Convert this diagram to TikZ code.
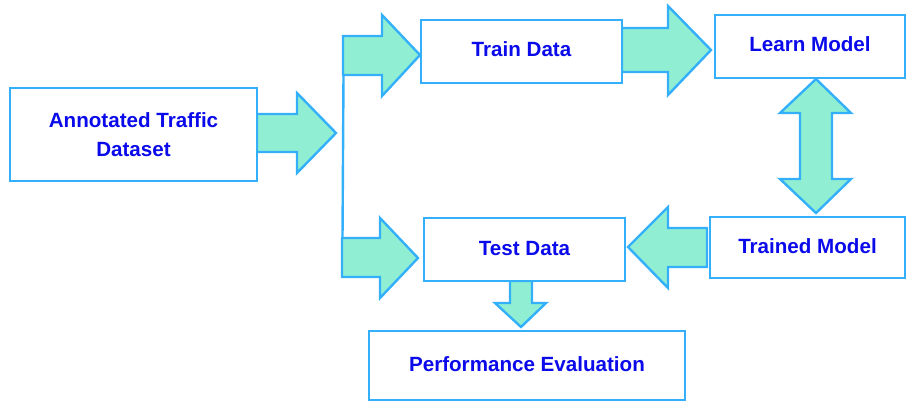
\documentclass[tikz,border=0pt]{standalone}
\usepackage{fontspec}
\setmainfont{Liberation Sans}
\definecolor{edgeblue}{RGB}{52,176,250}
\definecolor{arrowfill}{RGB}{144,238,210}
\definecolor{textblue}{RGB}{10,10,235}
\begin{document}
\begin{tikzpicture}[x=1pt,y=-1pt,
  stagebox/.style={draw=edgeblue,line width=2.7pt,fill=white,inner sep=0pt,
    text=textblue,font=\fontsize{20.6}{28.5}\selectfont\bfseries,align=center},
  blockarrow/.style={draw=edgeblue,line width=2.4pt,fill=arrowfill,line join=miter}]
\useasboundingbox (0,0) rectangle (907,402);

% block arrows
\draw[blockarrow] (257,114) -- (297,114) -- (297,93) -- (336,133) -- (297,173) -- (297,152) -- (257,152) -- cycle;
\draw[blockarrow] (343,36) -- (382,36) -- (382,15) -- (420,55) -- (382,96) -- (382,75) -- (343,75) -- cycle;
\draw[blockarrow] (342,238) -- (380,238) -- (380,218) -- (418,258) -- (380,298) -- (380,277) -- (342,277) -- cycle;
\draw[draw=edgeblue,line width=2.4pt] (343.5,75) -- (342.5,238);
\draw[blockarrow] (622,28) -- (668,28) -- (668,6) -- (711,50) -- (668,95) -- (668,72) -- (622,72) -- cycle;
\draw[blockarrow] (816,79) -- (851,113) -- (832,113) -- (832,179) -- (851,179) -- (816,213) -- (780,179) -- (800,179) -- (800,113) -- (780,113) -- cycle;
\draw[blockarrow] (707,228) -- (668,228) -- (668,207) -- (628,247) -- (668,288) -- (668,267) -- (707,267) -- cycle;
\draw[blockarrow] (510,281) -- (532,281) -- (532,303) -- (546,303) -- (521,327) -- (495,303) -- (510,303) -- cycle;

% stages
\node[stagebox,minimum width=247pt,minimum height=93pt] (data) at (133.5,134.5) {\raisebox{3pt}{\parbox{240pt}{\centering Annotated Traffic\\Dataset}}};
\node[stagebox,minimum width=201pt,minimum height=63pt] (train) at (521.5,51.5) {\raisebox{4pt}{Train Data}};
\node[stagebox,minimum width=190pt,minimum height=63pt] (learn) at (810,46.5) {\raisebox{4pt}{Learn Model}};
\node[stagebox,minimum width=195pt,minimum height=61pt] (trained) at (807.5,247.5) {\raisebox{2pt}{Trained Model}};
\node[stagebox,minimum width=201pt,minimum height=63pt] (test) at (524.5,249.5) {\raisebox{3pt}{Test Data}};
\node[stagebox,minimum width=316pt,minimum height=69pt] (perf) at (527,365.5) {\raisebox{3pt}{Performance Evaluation}};
\end{tikzpicture}
\end{document}
